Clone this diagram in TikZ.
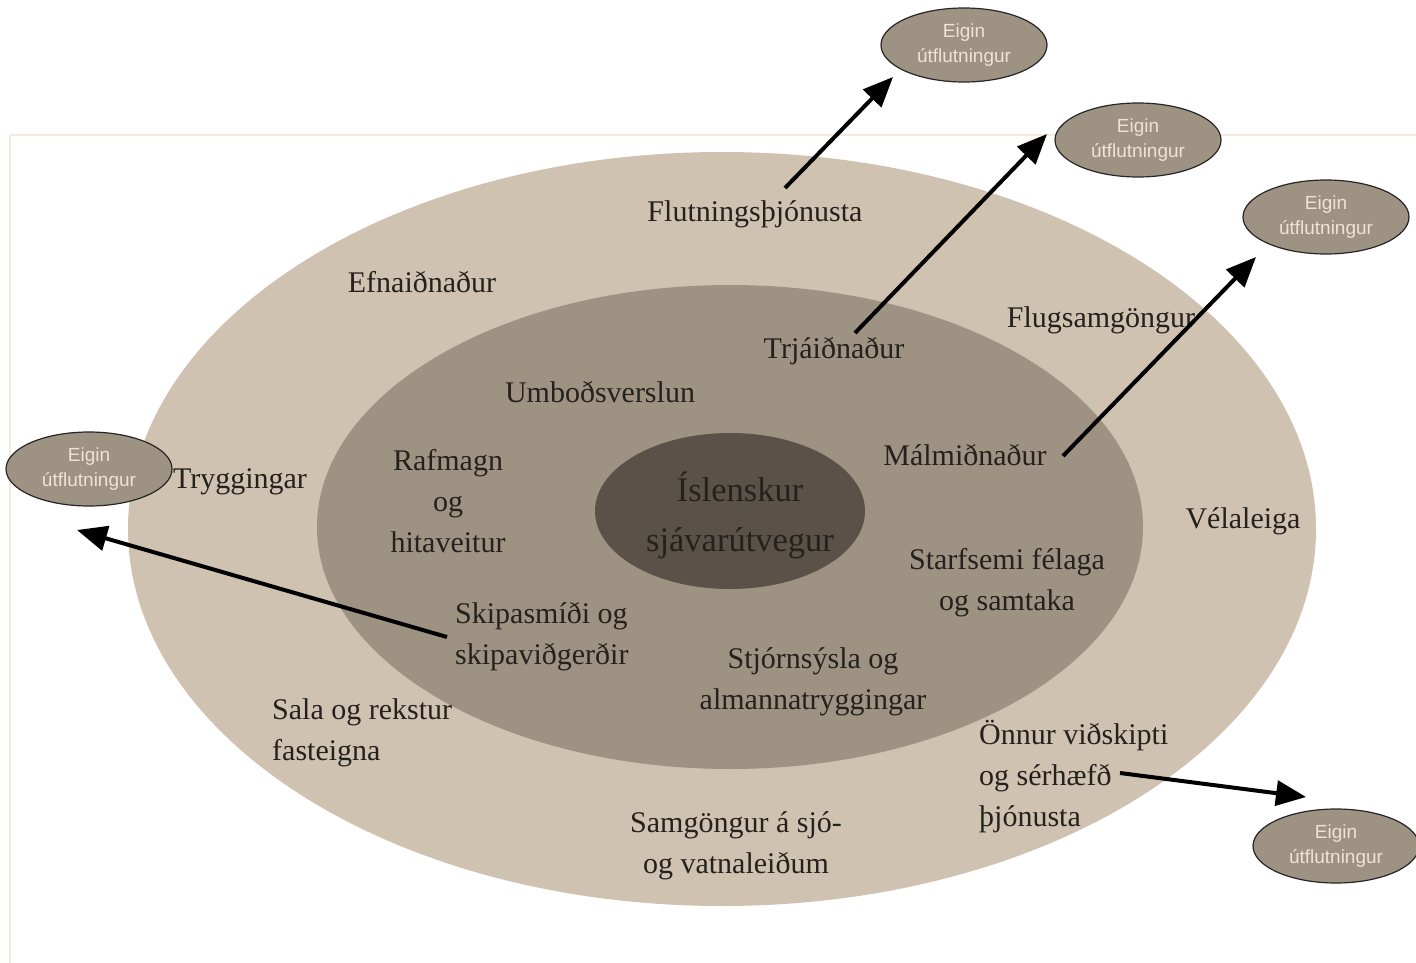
\documentclass[tikz,border=0pt]{standalone}
\usepackage{fontspec}
\setmainfont{Liberation Serif}
\newfontfamily\eigfont{Liberation Sans}
\usetikzlibrary{arrows.meta,shapes.geometric}
\definecolor{outerc}{HTML}{CFC2B0}
\definecolor{innerc}{HTML}{9E9282}
\definecolor{corec}{HTML}{5A5149}
\definecolor{framec}{HTML}{F6E9DC}
\definecolor{eigtext}{HTML}{EDE3D6}
\definecolor{ink}{HTML}{25211D}
\begin{document}
\begin{tikzpicture}[x=1pt,y=-1pt,
 lbl/.style={inner sep=0pt, text=ink, font=\fontsize{30}{41}\selectfont},
 core/.style={inner sep=0pt, text=ink, align=center, font=\fontsize{34.5}{50}\selectfont},
 eig/.style={ellipse, draw=black!85, line width=1.2pt, fill=innerc, minimum width=166pt, minimum height=74pt, inner sep=0pt, align=center, text=eigtext, font=\eigfont\fontsize{19}{25}\selectfont},
 arr/.style={line width=4pt, -{Triangle[length=30pt,width=25pt]}}]
\useasboundingbox (0,0) rectangle (1416,963);
% faint frame
\draw[framec, line width=1.5pt] (1416,135) -- (10,135) -- (10,963);
% rings
\fill[outerc] (722,529) ellipse [x radius=594, y radius=377];
\fill[innerc] (730,527) ellipse [x radius=413, y radius=242];
\fill[corec] (730,511) ellipse [x radius=135, y radius=78];
\node[core] (core) at (740,515) {Íslenskur\\sjávarútvegur};
% outer ring labels
\node[lbl] (flut) at (755,214) {Flutningsþjónusta};
\node[lbl] (efna) at (422,282) {Efnaiðnaður};
\node[lbl] (flug) at (1101,320) {Flugsamgöngur};
\node[lbl] (tryg) at (240,482) {Tryggingar};
\node[lbl] (vela) at (1243,521) {Vélaleiga};
\node[lbl, align=left, anchor=west] (sala) at (272,733) {Sala og rekstur\\fasteigna};
\node[lbl, align=left, anchor=west] (onnur) at (979,777) {Önnur viðskipti\\og sérhæfð\\þjónusta};
\node[lbl, align=center] (samg) at (736,846) {Samgöngur á sjó-\\og vatnaleiðum};
% inner ring labels
\node[lbl] (trja) at (834,351) {Trjáiðnaður};
\node[lbl] (umbo) at (600,392) {Umboðsverslun};
\node[lbl, align=center] (rafm) at (448,501) {Rafmagn\\og\\hitaveitur};
\node[lbl] (malm) at (965,455) {Málmiðnaður};
\node[lbl, align=center] (starf) at (1007,583) {Starfsemi félaga\\og samtaka};
\node[lbl, align=left, anchor=west] (skip) at (455,637) {Skipasmíði og\\skipaviðgerðir};
\node[lbl, align=center] (stjo) at (813,682) {Stjórnsýsla og\\almannatryggingar};
% export ellipses
\node[eig] (e1) at (964,45) {Eigin\\útflutningur};
\node[eig] (e2) at (1138,140) {Eigin\\útflutningur};
\node[eig] (e3) at (1326,217) {Eigin\\útflutningur};
\node[eig] (e4) at (89,469) {Eigin\\útflutningur};
\node[eig] (e5) at (1336,846) {Eigin\\útflutningur};
% arrows
\coordinate (a1s) at (785,188); \coordinate (a1e) at (893,77);
\coordinate (a2s) at (855,333); \coordinate (a2e) at (1047,134);
\coordinate (a3s) at (1063,456); \coordinate (a3e) at (1256,257);
\coordinate (a4s) at (447,637); \coordinate (a4e) at (77,530);
\coordinate (a5s) at (1120,773); \coordinate (a5e) at (1306,797);
\draw[arr] (a1s) -- (a1e);
\draw[arr] (a2s) -- (a2e);
\draw[arr] (a3s) -- (a3e);
\draw[arr] (a4s) -- (a4e);
\draw[arr] (a5s) -- (a5e);
\end{tikzpicture}
\end{document}
